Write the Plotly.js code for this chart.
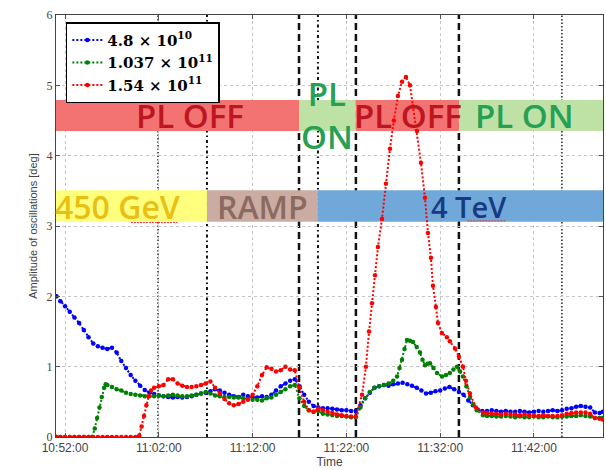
<!DOCTYPE html>
<html>
<head>
<meta charset="utf-8">
<script src="https://cdn.plot.ly/plotly-3.0.1.min.js"></script>
<style>html,body{margin:0;padding:0;background:#fff;}#chart{width:606px;height:470px;}</style>
</head>
<body>
<div id="chart"></div>
<script>
// ---------------- DATA ----------------
var DAY = '2012-06-01 ';
var seriesNames = ['4.8 × 10<sup>10</sup>', '1.037 × 10<sup>11</sup>', '1.54 × 10<sup>11</sup>'];

var blueTime = ['10:51:05','10:51:30','10:52:00','10:52:30','10:53:00','10:53:30','10:54:00','10:54:30','10:55:00','10:55:30',
'10:56:00','10:56:30','10:57:00','10:57:30','10:58:00','10:58:30','10:59:00','10:59:30','11:00:00','11:00:30',
'11:01:00','11:01:30','11:02:00','11:02:30','11:03:00','11:03:30','11:04:00','11:04:30','11:05:00','11:05:30',
'11:06:00','11:06:30','11:07:00','11:07:30','11:08:00','11:08:30','11:09:00','11:09:30','11:10:00','11:10:30',
'11:11:00','11:11:30','11:12:00','11:12:30','11:13:00','11:13:30','11:14:00','11:14:30','11:15:00','11:15:30',
'11:16:00','11:16:30','11:17:00','11:17:30','11:18:00','11:18:30','11:19:00','11:19:30','11:20:00','11:20:30',
'11:21:00','11:21:30','11:22:00','11:22:30','11:23:00','11:23:30','11:24:00','11:24:30','11:25:00','11:25:30',
'11:26:00','11:26:30','11:27:00','11:27:30','11:28:00','11:28:30','11:29:00','11:29:30','11:30:00','11:30:30',
'11:31:00','11:31:30','11:32:00','11:32:30','11:33:00','11:33:30','11:34:00','11:34:30','11:35:00','11:35:30',
'11:36:00','11:36:30','11:37:00','11:37:30','11:38:00','11:38:30','11:39:00','11:39:30','11:40:00','11:40:30',
'11:41:00','11:41:30','11:42:00','11:42:30','11:43:00','11:43:30','11:44:00','11:44:30','11:45:00','11:45:30',
'11:46:00','11:46:30','11:47:00','11:47:30','11:48:00','11:48:30','11:49:00','11:49:20'];
var blueAmp = [2.00,1.93,1.86,1.78,1.70,1.62,1.52,1.42,1.33,1.29,
1.27,1.25,1.27,1.20,1.08,0.98,0.88,0.80,0.73,0.67,
0.63,0.61,0.59,0.58,0.57,0.56,0.57,0.56,0.57,0.58,
0.60,0.62,0.63,0.65,0.68,0.66,0.63,0.60,0.58,0.57,
0.60,0.58,0.57,0.56,0.58,0.57,0.60,0.66,0.72,0.76,
0.80,0.82,0.72,0.60,0.50,0.44,0.42,0.41,0.41,0.40,
0.39,0.38,0.38,0.37,0.37,0.45,0.55,0.63,0.70,0.72,
0.74,0.73,0.75,0.76,0.77,0.75,0.73,0.70,0.66,0.62,
0.63,0.65,0.66,0.69,0.71,0.68,0.64,0.60,0.52,0.45,
0.39,0.37,0.37,0.38,0.37,0.36,0.37,0.36,0.36,0.37,
0.36,0.35,0.36,0.37,0.36,0.37,0.38,0.37,0.38,0.40,
0.41,0.43,0.44,0.43,0.42,0.35,0.34,0.36];

var greenTime = ['10:51:05','10:51:30','10:52:00','10:52:30','10:53:00','10:53:30','10:54:00','10:54:30','10:54:53','10:55:10',
'10:55:25','10:55:40','10:55:55','10:56:10','10:56:20','10:56:30','10:57:00','10:57:30','10:58:00','10:58:30',
'10:59:00','10:59:30','11:00:00','11:00:30','11:01:00','11:01:30','11:02:00','11:02:30','11:03:00','11:03:30',
'11:04:00','11:04:30','11:05:00','11:05:30','11:06:00','11:06:30','11:07:00','11:07:30','11:08:00','11:08:30',
'11:09:00','11:09:30','11:10:00','11:10:30','11:11:00','11:11:30','11:12:00','11:12:30','11:13:00','11:13:30',
'11:14:00','11:14:30','11:15:00','11:15:30','11:16:00','11:16:30','11:17:00','11:17:30','11:18:00','11:18:30',
'11:19:00','11:19:30','11:20:00','11:20:30','11:21:00','11:21:30','11:22:00','11:22:30','11:23:00','11:23:30',
'11:24:00','11:24:30','11:25:00','11:25:30','11:26:00','11:26:30','11:27:00','11:27:24','11:27:40','11:27:56',
'11:28:12','11:28:28','11:28:47','11:29:06','11:29:30','11:29:51','11:30:07','11:30:23','11:30:40','11:30:55',
'11:31:17','11:31:40','11:32:12','11:32:37','11:33:02','11:33:25','11:33:48','11:34:07','11:34:26','11:34:48',
'11:35:11','11:35:33','11:35:54','11:36:34','11:37:00','11:37:30','11:38:00','11:38:30','11:39:00','11:39:30',
'11:40:00','11:40:30','11:41:00','11:41:30','11:42:00','11:42:30','11:43:00','11:43:30','11:44:00','11:44:30',
'11:45:00','11:45:30','11:46:00','11:46:30','11:47:00','11:47:30','11:48:00','11:48:30','11:49:00','11:49:20'];
var greenAmp = [0,0,0,0,0,0,0,0,0,0.12,
0.27,0.42,0.57,0.70,0.75,0.74,0.71,0.68,0.66,0.63,
0.61,0.60,0.59,0.58,0.58,0.58,0.59,0.58,0.59,0.60,
0.59,0.58,0.58,0.59,0.60,0.62,0.64,0.62,0.59,0.58,
0.57,0.57,0.56,0.56,0.55,0.54,0.53,0.53,0.52,0.55,
0.56,0.60,0.64,0.68,0.72,0.74,0.55,0.44,0.38,0.36,
0.37,0.33,0.32,0.31,0.30,0.30,0.29,0.28,0.28,0.42,
0.55,0.64,0.70,0.72,0.74,0.76,0.80,0.86,0.98,1.10,
1.25,1.38,1.37,1.35,1.28,1.20,1.10,1.02,1.04,1.05,
0.98,0.91,0.86,0.88,0.91,0.96,1.00,0.93,0.86,0.72,
0.57,0.46,0.38,0.31,0.30,0.30,0.29,0.29,0.30,0.29,
0.28,0.29,0.28,0.28,0.29,0.28,0.28,0.29,0.28,0.28,
0.29,0.29,0.30,0.30,0.31,0.30,0.29,0.27,0.27,0.27];

var redTime = ['10:51:05','10:51:30','10:52:00','10:52:30','10:53:00','10:53:30','10:54:00','10:54:30','10:55:00','10:55:30',
'10:56:00','10:56:30','10:57:00','10:57:30','10:58:00','10:58:30','10:59:00','10:59:30','10:59:55','11:00:10',
'11:00:25','11:00:40','11:00:55','11:01:10','11:01:30','11:02:00','11:02:30','11:03:00','11:03:30','11:04:00',
'11:04:30','11:05:00','11:05:30','11:06:00','11:06:30','11:07:00','11:07:30','11:08:00','11:08:30','11:09:00',
'11:09:30','11:10:00','11:10:30','11:11:00','11:11:30','11:12:00','11:12:30','11:13:00','11:13:30','11:14:00',
'11:14:30','11:15:00','11:15:30','11:16:00','11:16:30','11:17:00','11:17:30','11:18:00','11:18:30','11:19:00',
'11:19:30','11:20:00','11:20:30','11:21:00','11:21:30','11:22:00','11:22:30','11:23:00','11:23:40','11:24:05',
'11:24:25','11:24:44','11:25:03','11:25:22','11:25:48','11:26:13','11:26:39','11:27:04','11:27:30','11:27:56',
'11:28:21','11:28:47','11:29:06','11:29:32','11:29:57','11:30:23','11:30:42','11:31:01','11:31:14','11:31:33',
'11:31:46','11:32:11','11:32:43','11:33:02','11:33:35','11:34:00','11:34:26','11:34:45','11:35:11','11:35:49',
'11:36:34','11:37:00','11:37:30','11:38:00','11:38:30','11:39:00','11:39:30','11:40:00','11:40:30','11:41:00',
'11:41:30','11:42:00','11:42:30','11:43:00','11:43:30','11:44:00','11:44:30','11:45:00','11:45:30','11:46:00',
'11:46:30','11:47:00','11:47:30','11:48:00','11:48:30','11:49:00','11:49:20'];
var redAmp = [0,0,0,0,0,0,0,0,0,0,
0,0,0,0,0,0,0,0,0.02,0.15,
0.30,0.45,0.58,0.66,0.70,0.72,0.74,0.82,0.82,0.76,
0.73,0.71,0.71,0.72,0.74,0.76,0.79,0.70,0.62,0.54,
0.48,0.45,0.47,0.50,0.53,0.60,0.72,0.88,0.99,0.97,
0.93,0.95,1.00,0.96,0.95,0.70,0.50,0.38,0.36,0.40,
0.38,0.36,0.34,0.32,0.31,0.30,0.29,0.29,0.60,1.00,
1.50,1.90,2.30,2.70,3.10,3.60,4.10,4.50,4.85,5.05,
5.12,5.00,4.70,4.35,3.90,3.40,2.90,2.55,2.15,1.85,
1.62,1.48,1.42,1.36,1.26,1.14,1.00,0.80,0.62,0.42,
0.35,0.34,0.33,0.33,0.32,0.33,0.32,0.32,0.31,0.32,
0.31,0.31,0.30,0.31,0.30,0.30,0.30,0.31,0.33,0.34,
0.35,0.35,0.35,0.33,0.27,0.26,0.25];

// event times (vertical lines) and phases
var eventTimes = ['11:01:55','11:07:08','11:16:57','11:18:58','11:23:01','11:34:00','11:44:59'];
var plPhases = [['PL OFF','start','11:16:57'],['PL<br>ON','11:16:57','11:23:01'],['PL OFF','11:23:01','11:34:00'],['PL ON','11:34:00','end']];
var energyPhases = [['450 GeV','start','11:07:08'],['RAMP','11:07:08','11:18:58'],['4 TeV','11:18:58','end']];
var xStart = '10:51:02', xEnd = '11:49:22';

// ---------------- STYLE ----------------
var colors = ['#0000ff', '#008000', '#ff0000'];
function T(s){ return DAY + (s === 'start' ? xStart : s === 'end' ? xEnd : s); }

var times = [blueTime, greenTime, redTime];
var amps = [blueAmp, greenAmp, redAmp];
var traces = [];
for (var i = 0; i < 3; i++) {
  traces.push({
    type: 'scatter', mode: 'lines+markers',
    x: times[i].map(T), y: amps[i],
    name: '<b>' + seriesNames[i] + '</b>',
    line: {color: colors[i], width: 2, dash: '2px,2px'},
    marker: {color: colors[i], size: 4.5},
    cliponaxis: true
  });
}

var shapes = [];
var plBand = [4.35, 4.79], enBand = [3.06, 3.51];
var plFill = ['rgb(243,114,114)', 'rgb(190,226,166)', 'rgb(243,114,114)', 'rgb(190,226,166)'];
var enFill = ['rgb(255,255,125)', 'rgb(202,172,162)', 'rgb(112,168,218)'];
plPhases.forEach(function(p, k){
  shapes.push({type:'rect', xref:'x', yref:'y', x0:T(p[1]), x1:T(p[2]), y0:plBand[0], y1:plBand[1],
    fillcolor: plFill[k], line:{width:0}, layer:'between'});
});
energyPhases.forEach(function(p, k){
  shapes.push({type:'rect', xref:'x', yref:'y', x0:T(p[1]), x1:T(p[2]), y0:enBand[0], y1:enBand[1],
    fillcolor: enFill[k], line:{width:0}, layer:'between'});
});
var evStyle = [
  {w:1.5, d:'1.5px,2px', c:'#222'},
  {w:2, d:'3px,3px,1.5px,3px', c:'#111'},
  {w:2.5, d:'7px,4px', c:'#111'},
  {w:2, d:'3px,3px,1.5px,3px', c:'#111'},
  {w:2.5, d:'7px,4px', c:'#111'},
  {w:2.5, d:'7px,4px', c:'#111'},
  {w:1.5, d:'1.5px,2px', c:'#222'}
];
eventTimes.forEach(function(t, k){
  shapes.push({type:'line', xref:'x', yref:'paper', x0:T(t), x1:T(t), y0:0, y1:1,
    line:{color:evStyle[k].c, width:evStyle[k].w, dash:evStyle[k].d}, layer:'between'});
});
// spell-check squiggles under GeV / TeV
shapes.push({type:'line', xref:'paper', yref:'paper', x0:0.137, x1:0.222, y0:0.508, y1:0.508, line:{color:'#e03030', width:1, dash:'2px,1px'}});
shapes.push({type:'line', xref:'paper', yref:'paper', x0:0.752, x1:0.822, y0:0.512, y1:0.512, line:{color:'#e03030', width:1, dash:'2px,1px'}});

var labelFont = '"Open Sans", Lato, sans-serif';
var plText = ['rgb(190,22,30)', 'rgb(38,160,84)', 'rgb(190,22,30)', 'rgb(38,160,84)'];
var plX = [0.245, 0.495, 0.644, 0.857];
var enText = ['rgb(232,192,20)', 'rgb(140,106,96)', 'rgb(24,58,128)'];
var enX = [0.113, 0.378, 0.755];
var annotations = [];
plPhases.forEach(function(p, k){
  annotations.push({xref:'paper', yref:'paper', x:plX[k], y:0.762, text:p[0], showarrow:false,
    font:{family:labelFont, size:33, weight:600, color:plText[k]}, xanchor:'center', yanchor:'middle'});
});
energyPhases.forEach(function(p, k){
  annotations.push({xref:'paper', yref:'paper', x:enX[k], y:0.547, text:p[0], showarrow:false,
    font:{family:labelFont, size: (k === 2 ? 29 : 32), weight:600, color:enText[k]}, xanchor:'center', yanchor:'middle'});
});

var layout = {
  width: 606, height: 470,
  margin: {l:56, r:3, t:15, b:33},
  paper_bgcolor:'#fff', plot_bgcolor:'#fff',
  showlegend: true,
  legend: {x:0.018, y:0.983, xanchor:'left', yanchor:'top', bgcolor:'#fff', bordercolor:'#000', borderwidth:1.5,
    font:{family:'"DejaVu Serif", serif', size:15, color:'#000'}, itemwidth:30, tracegroupgap:0},
  xaxis: {
    type:'date', range:[T('start'), T('end')],
    tick0: DAY + '10:52:00', dtick: 600000, tickformat:'%H:%M:%S',
    ticks:'inside', ticklen:4, tickcolor:'#555', mirror:'ticks',
    showline:true, linecolor:'#444', linewidth:1,
    showgrid:true, gridcolor:'#c4c4c4', griddash:'dot', gridwidth:1,
    zeroline:false,
    tickfont:{family:'"Liberation Sans", Arial, sans-serif', size:12, color:'#444'},
    title:{text:'Time', font:{family:'"Liberation Sans", Arial, sans-serif', size:12, color:'#444'}, standoff:2}
  },
  yaxis: {
    range:[0,6], dtick:1,
    ticks:'inside', ticklen:4, tickcolor:'#555', mirror:'ticks',
    showline:true, linecolor:'#444', linewidth:1,
    showgrid:true, gridcolor:'#c4c4c4', griddash:'dot', gridwidth:1,
    zeroline:false,
    tickfont:{family:'"Liberation Serif", serif', size:12, color:'#444'},
    title:{text:'Amplitude of oscillations [deg]', font:{family:'"Liberation Sans", Arial, sans-serif', size:11, color:'#444'}, standoff:6}
  },
  shapes: shapes,
  annotations: annotations
};

Plotly.newPlot('chart', traces, layout, {displayModeBar:false, staticPlot:true});
</script>
</body>
</html>
